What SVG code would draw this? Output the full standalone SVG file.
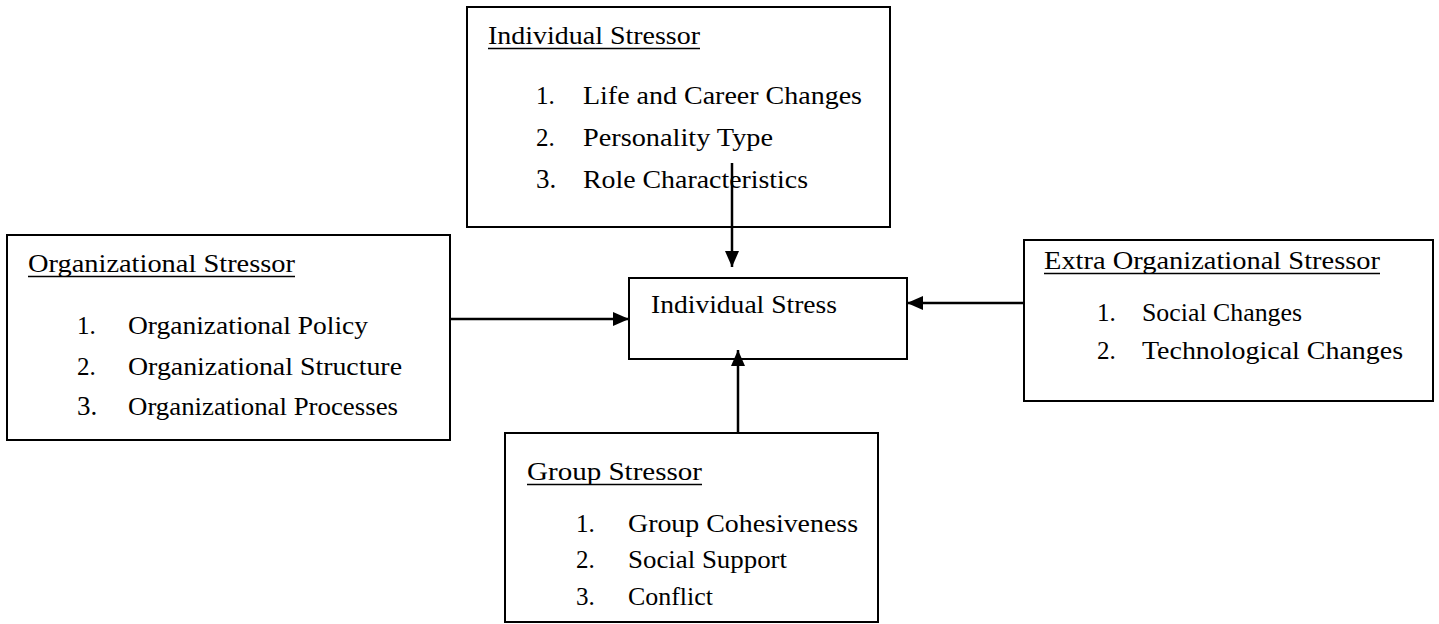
<svg xmlns="http://www.w3.org/2000/svg" width="1439" height="624" viewBox="0 0 1439 624">
<style>
.box{fill:#fff;stroke:#000;stroke-width:2}
.t{font-family:"Liberation Serif","Times New Roman",serif;font-size:25px;fill:#000}
.ul{stroke:#000;stroke-width:1.6}
.c{stroke:#000;stroke-width:2.5;fill:none}
</style>
<defs>
<marker id="ah" viewBox="0 0 16 14" refX="16" refY="7" markerWidth="16" markerHeight="14" markerUnits="userSpaceOnUse" orient="auto">
<path d="M0,0 L16,7 L0,14 Z" fill="#000"/>
</marker>
</defs>
<rect width="1439" height="624" fill="#fff"/>

<g id="individual-stressor">
<rect class="box" x="467" y="7" width="423" height="220"/>
<text class="t" x="488" y="44" textLength="212" lengthAdjust="spacingAndGlyphs">Individual Stressor</text>
<line class="ul" x1="488" y1="48.5" x2="700" y2="48.5"/>
<text class="t" x="536" y="104">1.</text>
<text class="t" x="583" y="104" textLength="279" lengthAdjust="spacingAndGlyphs">Life and Career Changes</text>
<text class="t" x="536" y="146">2.</text>
<text class="t" x="583" y="146" textLength="190" lengthAdjust="spacingAndGlyphs">Personality Type</text>
<text class="t" x="536" y="188" style="font-size:27px">3.</text>
<text class="t" x="583" y="188" textLength="225" lengthAdjust="spacingAndGlyphs">Role Characteristics</text>
</g>

<g id="organizational-stressor">
<rect class="box" x="7" y="235" width="443" height="205"/>
<text class="t" x="28" y="272" textLength="267" lengthAdjust="spacingAndGlyphs">Organizational Stressor</text>
<line class="ul" x1="28" y1="276.5" x2="295" y2="276.5"/>
<text class="t" x="77" y="334">1.</text>
<text class="t" x="128" y="334" textLength="240" lengthAdjust="spacingAndGlyphs">Organizational Policy</text>
<text class="t" x="77" y="375">2.</text>
<text class="t" x="128" y="375" textLength="274" lengthAdjust="spacingAndGlyphs">Organizational Structure</text>
<text class="t" x="77" y="415" style="font-size:27px">3.</text>
<text class="t" x="128" y="415" textLength="270" lengthAdjust="spacingAndGlyphs">Organizational Processes</text>
</g>

<g id="individual-stress">
<rect class="box" x="629" y="278" width="278" height="81"/>
<text class="t" x="651" y="313" textLength="186" lengthAdjust="spacingAndGlyphs">Individual Stress</text>
</g>

<g id="extra-organizational-stressor">
<rect class="box" x="1024" y="240" width="409" height="161"/>
<text class="t" x="1044" y="269" textLength="336" lengthAdjust="spacingAndGlyphs">Extra Organizational Stressor</text>
<line class="ul" x1="1044" y1="273.5" x2="1380" y2="273.5"/>
<text class="t" x="1097" y="321">1.</text>
<text class="t" x="1142" y="321" textLength="160" lengthAdjust="spacingAndGlyphs">Social Changes</text>
<text class="t" x="1097" y="359">2.</text>
<text class="t" x="1142" y="359" textLength="261" lengthAdjust="spacingAndGlyphs">Technological Changes</text>
</g>

<g id="group-stressor">
<rect class="box" x="505" y="433" width="373" height="189"/>
<text class="t" x="527" y="480" textLength="175" lengthAdjust="spacingAndGlyphs">Group Stressor</text>
<line class="ul" x1="527" y1="484.5" x2="702" y2="484.5"/>
<text class="t" x="576" y="532">1.</text>
<text class="t" x="628" y="532" textLength="230" lengthAdjust="spacingAndGlyphs">Group Cohesiveness</text>
<text class="t" x="576" y="568">2.</text>
<text class="t" x="628" y="568" textLength="159" lengthAdjust="spacingAndGlyphs">Social Support</text>
<text class="t" x="576" y="605">3.</text>
<text class="t" x="628" y="605" textLength="85" lengthAdjust="spacingAndGlyphs">Conflict</text>
</g>

<g id="connectors">
<line class="c" x1="732" y1="163" x2="732" y2="267" marker-end="url(#ah)"/>
<line class="c" x1="450" y1="319" x2="629" y2="319" marker-end="url(#ah)"/>
<line class="c" x1="1024" y1="303" x2="907" y2="303" marker-end="url(#ah)"/>
<line class="c" x1="738" y1="433" x2="738" y2="350" marker-end="url(#ah)"/>
</g>
</svg>
